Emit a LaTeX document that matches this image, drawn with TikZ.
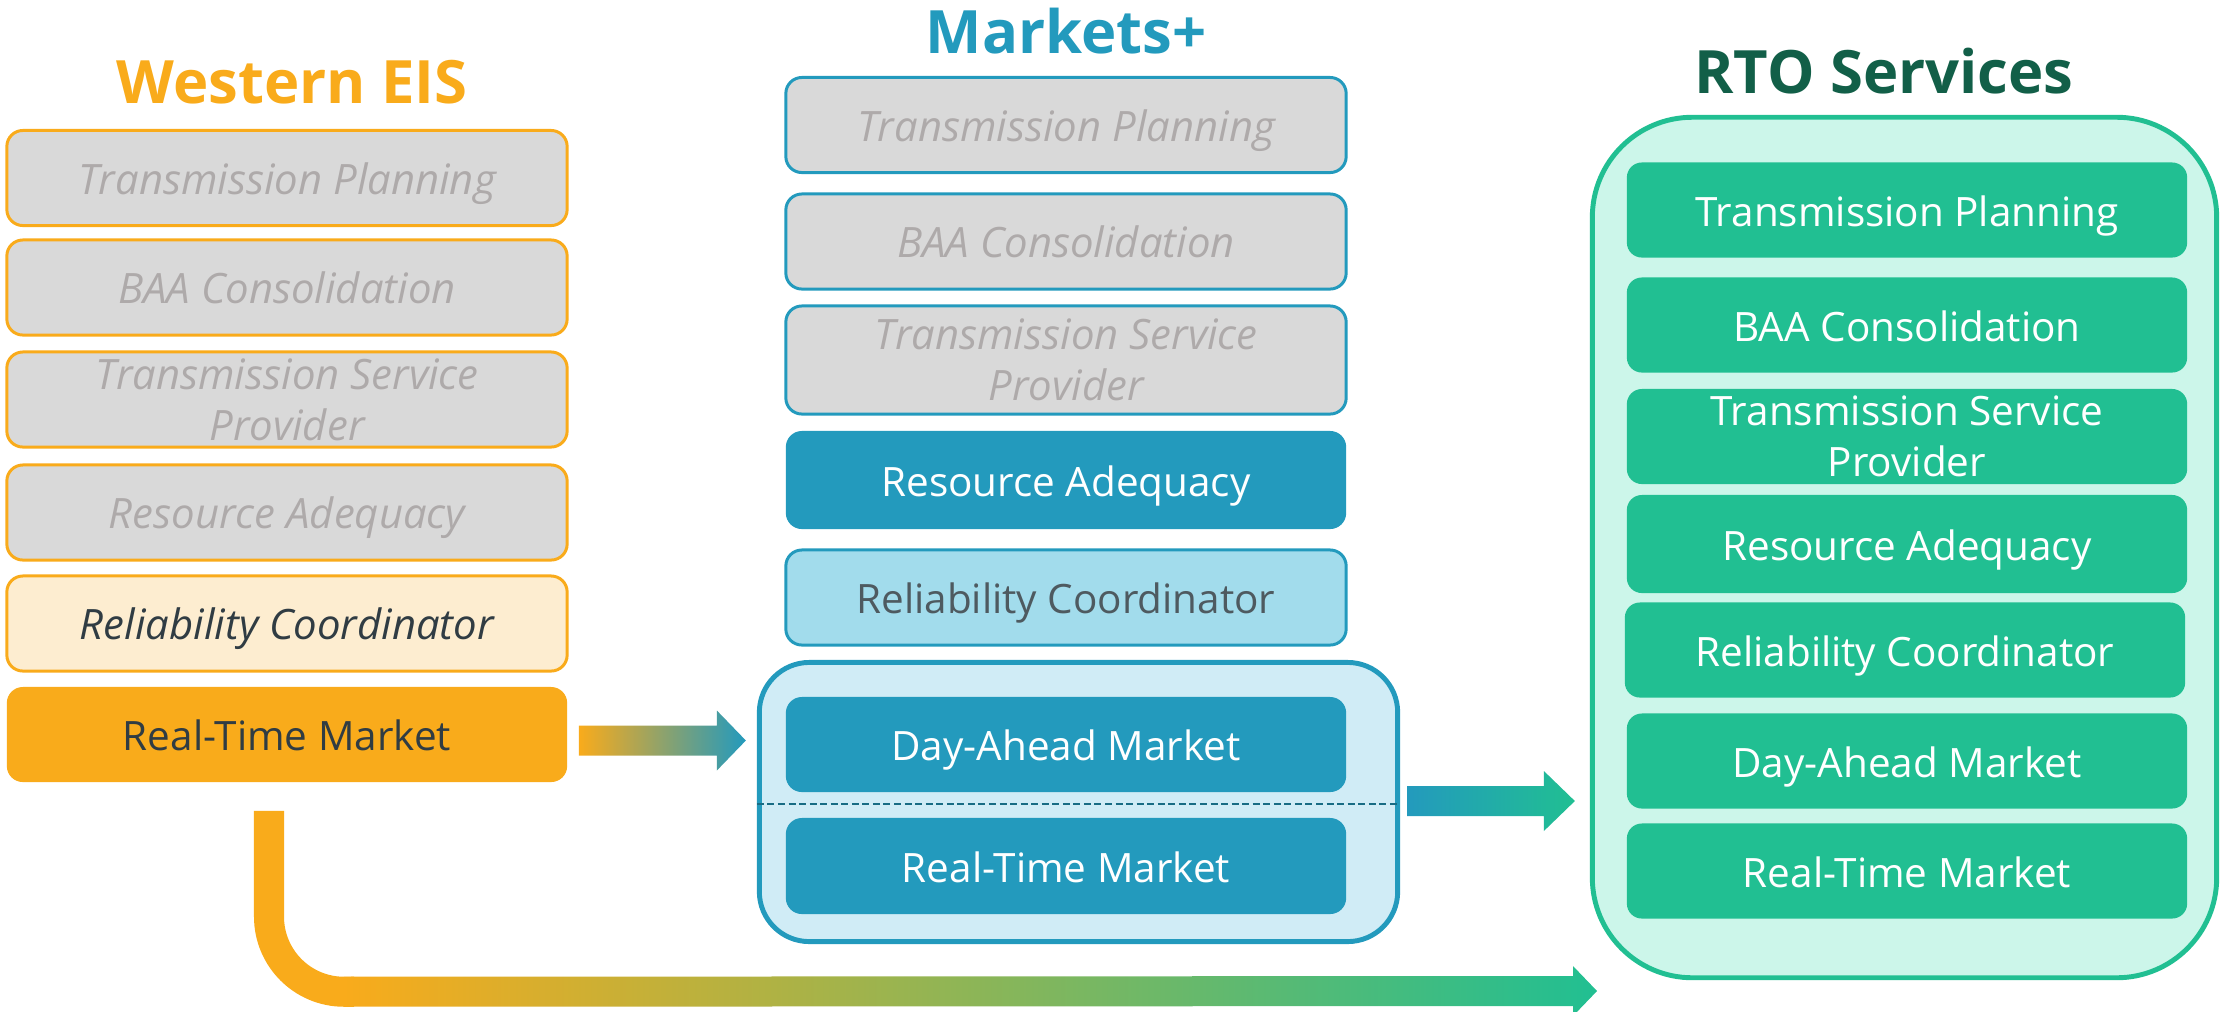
\documentclass[tikz,border=0pt]{standalone}
\usepackage{fontspec}
\setmainfont{Open Sans}
\usepackage{tikz}
\usetikzlibrary{calc}
\usetikzlibrary{positioning}

\definecolor{eisOrange}{HTML}{F9AB1B}
\definecolor{eisLight}{HTML}{FDEDD0}
\definecolor{mpBlue}{HTML}{239ABD}
\definecolor{mpLight}{HTML}{A2DCEC}
\definecolor{mpPale}{HTML}{D0ECF6}
\definecolor{rtoGreen}{HTML}{21BF92}
\definecolor{rtoPale}{HTML}{CCF6EA}
\definecolor{rtoDark}{HTML}{125F48}
\definecolor{boxGrey}{HTML}{D9D9D9}
\definecolor{txtGrey}{HTML}{AEAAAA}
\definecolor{txtDark}{HTML}{303C43}
\definecolor{txtMid}{HTML}{4E5A60}

% fat horizontal arrow: from, tip, head half height, head length, colours
\newcommand{\blockarrow}[6]{%
	\shade[left color=#5, right color=#6]
		($(#1)+(0,-15)$) -- ($(#2)+(-#4,-15)$) -- ($(#2)+(-#4,-#3)$) -- (#2)
		-- ($(#2)+(-#4,#3)$) -- ($(#2)+(-#4,15)$) -- ($(#1)+(0,15)$) -- cycle;}

\begin{document}
\begin{tikzpicture}[x=0.01cm, y=-0.01cm,
		every node/.style={inner sep=0pt, align=center},
		tile/.style={rounded corners=0.16cm, minimum width=5.6cm, minimum height=0.95cm, text height=12pt, text depth=2.7pt, font=\fontsize{11.5}{14.5}\selectfont},
		twoline/.style={text height={}, text depth={}},
		eisOff/.style={tile, draw=eisOrange, line width=0.85pt, fill=boxGrey, text=txtGrey, font=\fontsize{11.9}{14.5}\selectfont\itshape},
		mpOff/.style={eisOff, draw=mpBlue},
		mpOn/.style={tile, fill=mpBlue, text=white},
		rtoOn/.style={tile, fill=rtoGreen, text=white, rounded corners=0.15cm},
		heading/.style={anchor=base, font=\fontsize{17}{20}\selectfont\bfseries}]
	\useasboundingbox (0,0) rectangle (2221,1011);

	% headings
	\node[heading, text=eisOrange] (T1) at (292,103) {Western EIS};
	\node[heading, text=mpBlue] (T2) at (1066,53) {Markets+};
	\node[heading, text=rtoDark] (T3) at (1884,93) {RTO Services};

	% Western EIS
	\node[eisOff] (W1) at (287,178) {Transmission Planning};
	\node[eisOff] (W2) at (287,287.5) {BAA Consolidation};
	\node[eisOff, twoline] (W3) at (287,399.5) {Transmission Service\\Provider};
	\node[eisOff] (W4) at (287,512.5) {Resource Adequacy};
	\node[eisOff, fill=eisLight, text=txtDark] (W5) at (287,623.5) {Reliability Coordinator};
	\node[tile, fill=eisOrange, text=txtDark] (W6) at (287,734.5) {Real-Time Market};

	% Markets+
	\node[draw=mpBlue, fill=mpPale, line width=1.4pt, rounded corners=0.5cm, minimum width=6.38cm, minimum height=2.79cm] (MP) at (1078.5,802) {};
	\node[mpOff] (M1) at (1066,125) {Transmission Planning};
	\node[mpOff] (M2) at (1066,241.5) {BAA Consolidation};
	\node[mpOff, twoline, minimum height=1.08cm] (M3) at (1066,360) {Transmission Service\\Provider};
	\node[mpOn, minimum height=0.98cm] (M4) at (1066,480) {Resource Adequacy};
	\node[tile, draw=mpBlue, line width=0.85pt, fill=mpLight, text=txtMid] (M5) at (1066,597.5) {Reliability Coordinator};
	\node[mpOn] (M6) at (1066,744.5) {Day-Ahead Market};
	\node[mpOn, minimum height=0.96cm] (M7) at (1066,866) {Real-Time Market};
	\draw[mpBlue!70!black, line width=0.5pt, dash pattern=on 2pt off 1pt] ($(MP.west)+(0,2)$) -- ($(MP.east)+(0,2)$);

	% RTO Services
	\node[draw=rtoGreen, fill=rtoPale, line width=1.4pt, rounded corners=1cm, minimum width=6.24cm, minimum height=8.6cm] (RTO) at (1904.5,547.5) {};
	\node[rtoOn] (R1) at (1907,210) {Transmission Planning};
	\node[rtoOn] (R2) at (1907,325) {BAA Consolidation};
	\node[rtoOn, twoline] (R3) at (1907,436.5) {Transmission Service\\Provider};
	\node[rtoOn, minimum height=0.98cm] (R4) at (1907,544) {Resource Adequacy};
	\node[rtoOn] (R5) at (1905,650) {Reliability Coordinator};
	\node[rtoOn] (R6) at (1907,761) {Day-Ahead Market};
	\node[rtoOn] (R7) at (1907,871) {Real-Time Market};

	% arrows between the columns
	\coordinate (A1s) at ($(W6.east)+(11,6)$);
	\path (A1s -| MP.west) coordinate (A1m);
	\coordinate (A1e) at ($(A1m)+(-11,0)$);
	\blockarrow{A1s}{A1e}{30}{29}{eisOrange}{mpBlue}

	\coordinate (A2s) at ($(MP.east)+(7,-1)$);
	\path (A2s -| RTO.west) coordinate (A2m);
	\coordinate (A2e) at ($(A2m)+(-15,0)$);
	\blockarrow{A2s}{A2e}{30}{31}{mpBlue}{rtoGreen}

	% straight from Western EIS to RTO
	\coordinate (Lt) at ($(W6.south)+(-18,28)$);
	\coordinate (Lc) at ($(Lt)+(75,181)$);
	\coordinate (Le) at (1597,991);
	\draw[eisOrange, line width=0.3cm, rounded corners=0.75cm] (Lt) |- ($(Lc)+(10,0)$);
	\blockarrow{Lc}{Le}{25}{24}{eisOrange}{rtoGreen}
\end{tikzpicture}
\end{document}
